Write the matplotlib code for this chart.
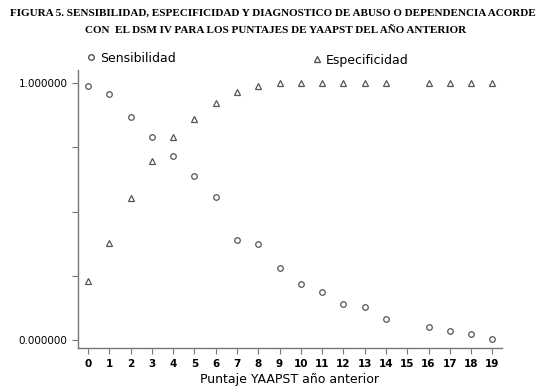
import matplotlib.pyplot as plt
from matplotlib.lines import Line2D

puntaje = list(range(20))
sensibilidad = [0.988, 0.957, 0.868, 0.790, 0.716, 0.638, 0.556, 0.389, 0.374, 0.280,
                0.218, 0.187, 0.140, 0.128, 0.082, None, 0.050, 0.035, 0.023, 0.004]
especificidad = [0.230, 0.377, 0.553, 0.697, 0.790, 0.860, 0.922, 0.965, 0.988, 1.0,
                 1.0, 1.0, 1.0, 1.0, 1.0, None, 1.0, 1.0, 1.0, 1.0]

xs = [x for x, v in zip(puntaje, sensibilidad) if v is not None]
sens = [v for v in sensibilidad if v is not None]
xe = [x for x, v in zip(puntaje, especificidad) if v is not None]
esp = [v for v in especificidad if v is not None]

fig = plt.figure(figsize=(5.45, 3.89), dpi=100)
ax = fig.add_axes([0.143, 0.105, 0.778, 0.715])

ax.plot(xs, sens, linestyle='none', marker='o', markersize=4,
        markerfacecolor='none', markeredgecolor='#555555', markeredgewidth=0.9)
ax.plot(xe, esp, linestyle='none', marker='^', markersize=4.5,
        markerfacecolor='none', markeredgecolor='#555555', markeredgewidth=0.9)

ax.set_xlim(-0.47, 19.45)
ax.set_ylim(-0.031, 1.05)
ax.set_xticks(puntaje)
ax.set_xticklabels([str(p) for p in puntaje], fontweight='bold', fontsize=7.5)
ax.set_yticks([0, 0.25, 0.5, 0.75, 1.0])
ax.set_yticklabels(['0.000000', '', '', '', '1.000000'], fontsize=7.5)
for s in ['top', 'right']:
    ax.spines[s].set_visible(False)
for s in ['left', 'bottom']:
    ax.spines[s].set_color('#777777')
    ax.spines[s].set_linewidth(1.0)
ax.tick_params(colors='#777777', labelcolor='black', length=4, width=0.8)
ax.set_xlabel('Puntaje YAAPST año anterior', fontsize=9, labelpad=3)

fig.text(0.5, 0.965, 'FIGURA 5. SENSIBILIDAD, ESPECIFICIDAD Y DIAGNOSTICO DE ABUSO O DEPENDENCIA ACORDE',
         ha='center', va='center', family='Liberation Serif', fontweight='bold', fontsize=8)
fig.text(0.505, 0.922, 'CON  EL DSM IV PARA LOS PUNTAJES DE YAAPST DEL AÑO ANTERIOR',
         ha='center', va='center', family='Liberation Serif', fontweight='bold', fontsize=8)

h1 = Line2D([], [], linestyle='none', marker='o', markersize=4,
            markerfacecolor='none', markeredgecolor='#555555')
h2 = Line2D([], [], linestyle='none', marker='^', markersize=4.5,
            markerfacecolor='none', markeredgecolor='#555555')
fig.legend([h1], ['Sensibilidad'], loc='center left', bbox_to_anchor=(0.14, 0.85),
           frameon=False, fontsize=9, handlelength=0.6, handletextpad=0.4)
fig.legend([h2], ['Especificidad'], loc='center left', bbox_to_anchor=(0.554, 0.845),
           frameon=False, fontsize=9, handlelength=0.6, handletextpad=0.4)

fig.savefig('out.png', dpi=100)
